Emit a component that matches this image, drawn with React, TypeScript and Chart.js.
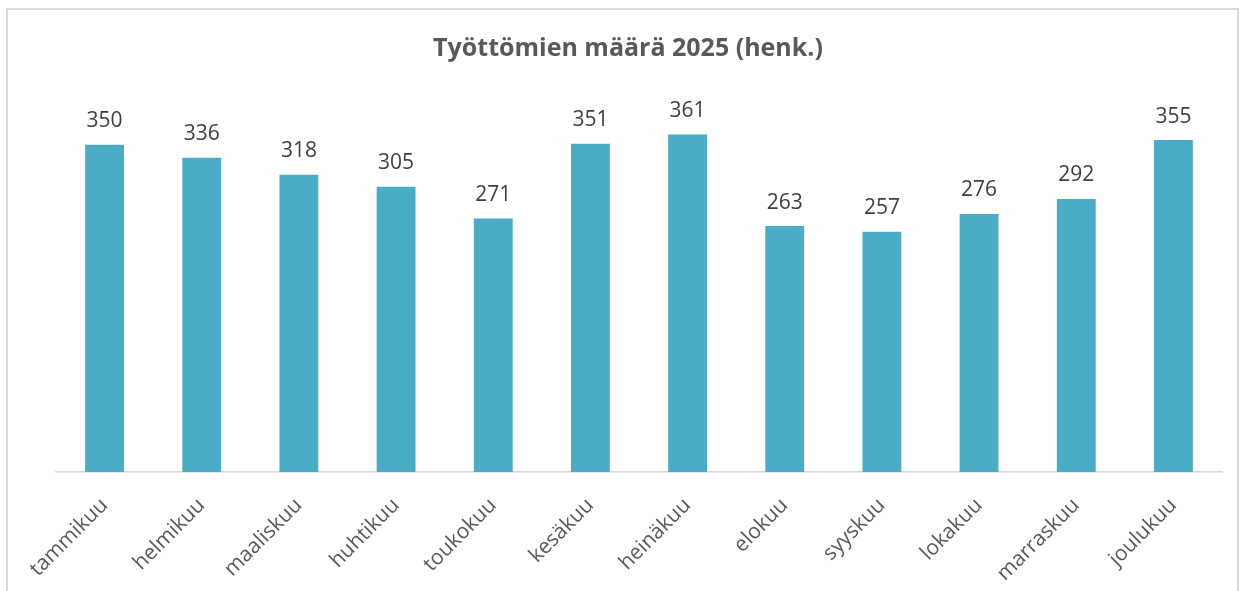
import React, { useEffect, useRef } from "react";
import { Chart, registerables } from "chart.js";

Chart.register(...registerables);

const months = [
  "tammikuu", "helmikuu", "maaliskuu", "huhtikuu", "toukokuu", "kesäkuu",
  "heinäkuu", "elokuu", "syyskuu", "lokakuu", "marraskuu", "joulukuu",
];
const unemployed = [350, 336, 318, 305, 271, 351, 361, 263, 257, 276, 292, 355];
const chartTitle = "Työttömien määrä 2025 (henk.)";

const labelPlugin = {
  id: "barLabels",
  afterDatasetsDraw(chart: any) {
    const ctx = chart.ctx;
    const meta = chart.getDatasetMeta(0);
    ctx.save();
    ctx.font = "21px 'Open Sans'";
    ctx.fillStyle = "#404040";
    ctx.textAlign = "center";
    ctx.textBaseline = "alphabetic";
    meta.data.forEach((bar: any, i: number) => {
      ctx.fillText(String(unemployed[i]), bar.x, bar.y - 17.5);
    });
    ctx.restore();
  },
};

const titlePlugin = {
  id: "customTitle",
  afterDraw(chart: any) {
    const ctx = chart.ctx;
    ctx.save();
    ctx.font = "bold 25px 'Open Sans'";
    ctx.fillStyle = "#595959";
    ctx.textAlign = "center";
    ctx.textBaseline = "middle";
    ctx.fillText(chartTitle, 628, 49);
    ctx.restore();
  },
};

export default function App() {
  const ref = useRef<HTMLCanvasElement>(null);
  useEffect(() => {
    if (!ref.current) return;
    const chart = new Chart(ref.current, {
      type: "bar",
      data: {
        labels: months,
        datasets: [
          {
            data: unemployed,
            backgroundColor: "#4BACC6",
            barPercentage: 0.4,
            categoryPercentage: 1,
          },
        ],
      },
      options: {
        animation: false,
        responsive: false,
        maintainAspectRatio: false,
        layout: { padding: { left: 56, right: 28, top: 98, bottom: 0 } },
        plugins: {
          legend: { display: false },
          tooltip: { enabled: false },
          title: { display: false },
        },
        scales: {
          x: {
            grid: { display: false, drawTicks: false },
            border: { display: true, color: "#d9d9d9", width: 1.5 },
            ticks: {
              color: "#595959",
              font: { family: "'Open Sans'", size: 21 },
              minRotation: 45,
              maxRotation: 45,
              padding: 21,
            },
            afterFit: (scale: any) => {
              scale.height = 119;
            },
          },
          y: {
            display: false,
            min: 0,
            max: 400,
          },
        },
      },
      plugins: [labelPlugin, titlePlugin],
    });
    return () => chart.destroy();
  }, []);
  return (
    <div style={{ position: "absolute", left: 0, top: 0, width: 1250, height: 591, background: "#fff", overflow: "hidden" }}>
      <div
        style={{
          position: "absolute",
          left: 6,
          top: 8,
          width: 1233,
          height: 600,
          border: "2px solid #d9d9d9",
          boxSizing: "border-box",
        }}
      />
      <canvas ref={ref} width={1250} height={591} style={{ position: "absolute", left: 0, top: 0 }} />
    </div>
  );
}
